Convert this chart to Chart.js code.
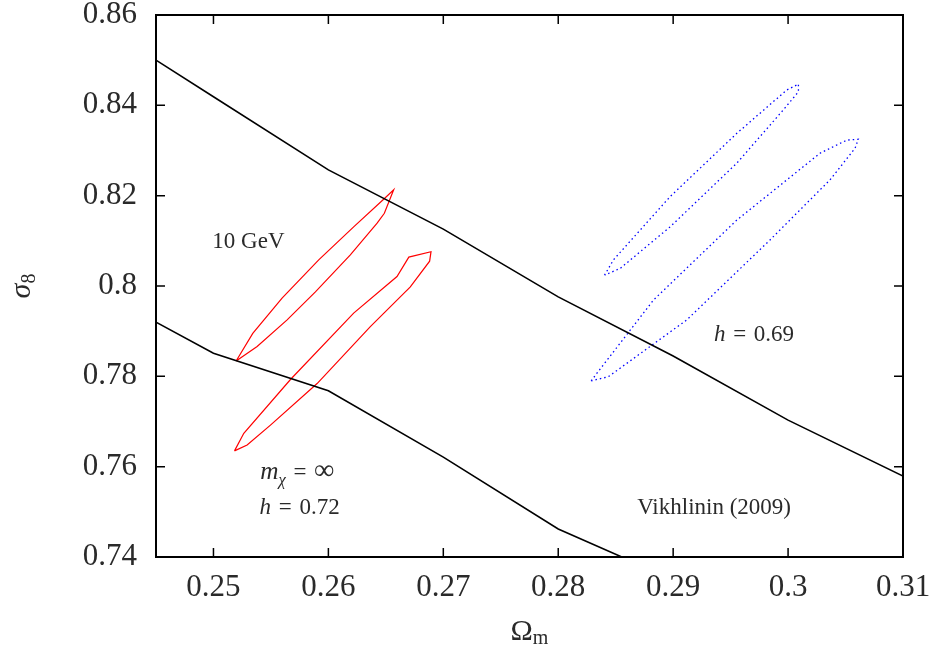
<!DOCTYPE html>
<html><head><meta charset="utf-8">
<script src="https://cdn.jsdelivr.net/npm/chart.js@4"></script>
<style>html,body{margin:0;padding:0;background:#fff}</style>
</head><body>
<canvas id="c" width="939" height="651"></canvas>
<script>
// ---- tick labels ----
const xTicks = [0.25, 0.26, 0.27, 0.28, 0.29, 0.3, 0.31];
const yTicks = [0.74, 0.76, 0.78, 0.8, 0.82, 0.84, 0.86];

// ---- black constraint lines ----
const upperLineX = [0.245, 0.25, 0.26, 0.27, 0.28, 0.29, 0.30, 0.31];
const upperLineY = [0.8500, 0.8419, 0.8257, 0.8126, 0.7976, 0.7845, 0.7703, 0.7579];
const lowerLineX = [0.245, 0.25, 0.26, 0.27, 0.28, 0.29];
const lowerLineY = [0.7920, 0.7851, 0.7768, 0.7621, 0.7462, 0.7350];

// ---- red contours (10 GeV, h = 0.72 / m = inf) ----
const redUpperX = [0.25197, 0.25342, 0.25597, 0.25916, 0.26220, 0.26481, 0.26568, 0.26487, 0.26424, 0.26191, 0.25887, 0.25641, 0.25380, 0.25197];
const redUpperY = [0.7834, 0.7895, 0.7973, 0.8058, 0.8131, 0.8192, 0.8213, 0.8161, 0.8139, 0.8069, 0.7987, 0.7925, 0.7866, 0.7834];
const redLowerX = [0.25183, 0.25264, 0.25670, 0.26220, 0.26597, 0.26700, 0.26893, 0.26881, 0.26713, 0.26365, 0.25902, 0.25496, 0.25293, 0.25183];
const redLowerY = [0.7635, 0.7674, 0.7793, 0.7940, 0.8021, 0.8064, 0.8076, 0.8055, 0.7998, 0.7910, 0.7784, 0.7692, 0.7648, 0.7635];

// ---- blue contours (h = 0.69) ----
const blueUpperX = [0.28403, 0.28481, 0.28974, 0.29554, 0.29989, 0.30090, 0.30090, 0.29959, 0.29554, 0.28974, 0.28539, 0.28403];
const blueUpperY = [0.8024, 0.8058, 0.8198, 0.8338, 0.8434, 0.8447, 0.8430, 0.8390, 0.8272, 0.8131, 0.8039, 0.8024];
const blueLowerX = [0.28287, 0.28337, 0.28829, 0.29554, 0.30278, 0.30511, 0.30611, 0.30583, 0.30365, 0.29843, 0.29119, 0.28435, 0.28287];
const blueLowerY = [0.7790, 0.7807, 0.7969, 0.8146, 0.8294, 0.8323, 0.8325, 0.8305, 0.8235, 0.8102, 0.7925, 0.7799, 0.7790];

const pts = (xs, ys) => xs.map((x, i) => ({x: x, y: ys[i]}));

const SERIF = '"Liberation Serif", "DejaVu Serif", serif';
const TXT = '#2a2a2a';

function line(xs, ys, color, width, dash) {
  return {data: pts(xs, ys), showLine: true, pointRadius: 0, borderColor: color,
          borderWidth: width, borderDash: dash || [], tension: 0, fill: false};
}

function drawRich(ctx, parts, cx, cy, size) {
  const fontOf = (p) => (p.it ? 'italic ' : '') + ((p.sub ? 0.72 : 1) * (p.scale || 1) * size) + 'px ' + SERIF;
  let total = 0;
  parts.forEach(p => { ctx.font = fontOf(p); total += ctx.measureText(p.t).width; });
  let x = cx - total / 2;
  ctx.textBaseline = 'alphabetic';
  ctx.textAlign = 'left';
  const base = cy + size * 0.33;
  parts.forEach(p => {
    ctx.font = fontOf(p);
    ctx.fillText(p.t, x, base + (p.sub ? size * 0.25 : 0));
    x += ctx.measureText(p.t).width;
  });
}

const decor = {
  id: 'decor',
  afterDraw(chart, args, opts) {
    const ctx = chart.ctx, a = chart.chartArea, sx = chart.scales.x, sy = chart.scales.y;
    ctx.save();
    // frame
    ctx.strokeStyle = '#000';
    ctx.lineWidth = 2;
    ctx.strokeRect(a.left, a.top, a.right - a.left, a.bottom - a.top);
    // inward ticks on all sides
    ctx.lineWidth = 1.5;
    ctx.beginPath();
    xTicks.forEach(v => {
      const px = sx.getPixelForValue(v);
      ctx.moveTo(px, a.bottom); ctx.lineTo(px, a.bottom - 9);
      ctx.moveTo(px, a.top); ctx.lineTo(px, a.top + 9);
    });
    yTicks.forEach(v => {
      const py = sy.getPixelForValue(v);
      ctx.moveTo(a.left, py); ctx.lineTo(a.left + 9, py);
      ctx.moveTo(a.right, py); ctx.lineTo(a.right - 9, py);
    });
    ctx.stroke();
    // in-plot labels
    ctx.fillStyle = TXT;
    opts.labels.forEach(l => {
      drawRich(ctx, l.parts, sx.getPixelForValue(l.x), sy.getPixelForValue(l.y), 23);
    });
    // axis titles
    ctx.fillStyle = TXT;
    ctx.textAlign = 'left';
    ctx.textBaseline = 'alphabetic';
    ctx.font = '30px ' + SERIF;
    const omW = ctx.measureText('Ω').width;
    ctx.font = '20px ' + SERIF;
    const mW = ctx.measureText('m').width;
    const cx = (a.left + a.right) / 2;
    const x0 = cx - (omW + mW) / 2;
    ctx.font = '30px ' + SERIF;
    ctx.fillText('Ω', x0, 640);
    ctx.font = '20px ' + SERIF;
    ctx.fillText('m', x0 + omW, 644);
    // y title rotated
    ctx.save();
    const cyy = (a.top + a.bottom) / 2;
    ctx.translate(30, cyy);
    ctx.rotate(-Math.PI / 2);
    ctx.font = 'italic 30px ' + SERIF;
    const sW = ctx.measureText('σ').width;
    ctx.font = '20px ' + SERIF;
    const eW = ctx.measureText('8').width;
    const sx0 = -(sW + eW) / 2;
    ctx.font = 'italic 30px ' + SERIF;
    ctx.fillText('σ', sx0, 0);
    ctx.font = '20px ' + SERIF;
    ctx.fillText('8', sx0 + sW, 5);
    ctx.restore();
    ctx.restore();
  }
};

const EQ = '\u2004=\u2004';

new Chart(document.getElementById('c'), {
  type: 'scatter',
  data: {
    datasets: [
      line(upperLineX, upperLineY, '#000000', 1.6),
      line(lowerLineX, lowerLineY, '#000000', 1.6),
      line(redUpperX, redUpperY, '#ff0000', 1.2),
      line(redLowerX, redLowerY, '#ff0000', 1.2),
      line(blueUpperX, blueUpperY, '#0000ff', 1.3, [1.5, 3]),
      line(blueLowerX, blueLowerY, '#0000ff', 1.3, [1.5, 3])
    ]
  },
  options: {
    responsive: false,
    animation: false,
    layout: {padding: {top: 15, right: 36, left: 0, bottom: 0}},
    plugins: {
      legend: {display: false},
      tooltip: {enabled: false},
      decor: {
        labels: [
          {x: 0.25304, y: 0.8102, parts: [{t: '10 GeV'}]},
          {x: 0.29704, y: 0.7896, parts: [{t: 'h', it: 1}, {t: EQ + '0.69'}]},
          {x: 0.25730, y: 0.7590, parts: [{t: 'm', it: 1, scale: 1.1}, {t: 'χ', it: 1, sub: 1}, {t: EQ}, {t: '∞', scale: 1.25}]},
          {x: 0.25750, y: 0.7511, parts: [{t: 'h', it: 1}, {t: EQ + '0.72'}]},
          {x: 0.29356, y: 0.7511, parts: [{t: 'Vikhlinin (2009)'}]}
        ]
      }
    },
    scales: {
      x: {
        type: 'linear', position: 'bottom', min: 0.245, max: 0.31,
        grid: {display: false, drawTicks: false},
        border: {display: false},
        afterBuildTicks: s => { s.ticks = xTicks.map(v => ({value: v})); },
        afterFit: s => { s.height = 94; s.paddingLeft = 0; s.paddingRight = 0; },
        ticks: {
          padding: 15, color: TXT, maxRotation: 0, autoSkip: false,
          font: {family: SERIF, size: 31, lineHeight: 1},
          callback: v => String(v)
        }
      },
      y: {
        type: 'linear', position: 'left', min: 0.74, max: 0.86,
        grid: {display: false, drawTicks: false},
        border: {display: false},
        afterBuildTicks: s => { s.ticks = yTicks.map(v => ({value: v})); },
        afterFit: s => { s.width = 156; s.paddingTop = 0; s.paddingBottom = 0; },
        ticks: {
          padding: 19, color: TXT, autoSkip: false,
          font: {family: SERIF, size: 31, lineHeight: 1},
          callback: v => String(v)
        }
      }
    }
  },
  plugins: [decor]
});
</script>
</body></html>
